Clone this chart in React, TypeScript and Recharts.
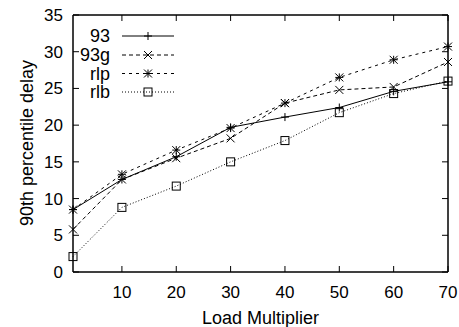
import React from 'react';
import { LineChart, Line, XAxis, YAxis, Label, Legend, ReferenceArea } from 'recharts';

const loadMultipliers = [1, 10, 20, 30, 40, 50, 60, 70];
const series93 = [8.5, 12.6, 15.7, 19.7, 21.1, 22.4, 24.6, 25.9];
const series93g = [5.8, 12.6, 15.5, 18.2, 23.0, 24.8, 25.2, 28.6];
const seriesRlp = [8.5, 13.3, 16.6, 19.6, 23.0, 26.5, 28.9, 30.7];
const seriesRlb = [2.1, 8.8, 11.7, 15.0, 17.9, 21.7, 24.3, 26.0];
const xTicks = [10, 20, 30, 40, 50, 60, 70];
const yTicks = [0, 5, 10, 15, 20, 25, 30, 35];
const seriesNames = ['93', '93g', 'rlp', 'rlb'];
const xDomain = [1, 70];
const yDomain = [0, 35];

const data = loadMultipliers.map((x, i) => ({
  x,
  s93: series93[i],
  s93g: series93g[i],
  rlp: seriesRlp[i],
  rlb: seriesRlb[i],
}));

type Shape = 'plus' | 'cross' | 'star' | 'box';
const INK = '#000';
const FONT = "'Liberation Sans', Arial, Helvetica, sans-serif";

function markerEls(shape: Shape, cx: number, cy: number) {
  const r = 4;
  const plus = [
    <line key="h" x1={cx - r} y1={cy} x2={cx + r} y2={cy} />,
    <line key="v" x1={cx} y1={cy - r} x2={cx} y2={cy + r} />,
  ];
  const cross = [
    <line key="d1" x1={cx - r} y1={cy - r} x2={cx + r} y2={cy + r} />,
    <line key="d2" x1={cx - r} y1={cy + r} x2={cx + r} y2={cy - r} />,
  ];
  if (shape === 'plus') return plus;
  if (shape === 'cross') return cross;
  if (shape === 'star') return [...plus, ...cross];
  return [<rect key="b" x={cx - r} y={cy - r} width={2 * r} height={2 * r} />];
}

const makeDot = (shape: Shape) => (props: any) => {
  const { cx, cy, index } = props;
  if (cx == null || cy == null) return <g key={`${shape}-${index}`} />;
  return (
    <g key={`${shape}-${index}`} stroke={INK} strokeWidth={1} fill="none">
      {markerEls(shape, cx, cy)}
    </g>
  );
};

const styles: { shape: Shape; dash?: string }[] = [
  { shape: 'plus' },
  { shape: 'cross', dash: '4 3' },
  { shape: 'star', dash: '3 4' },
  { shape: 'box', dash: '1 2' },
];

const rowY = [36, 55, 73.5, 92];

const LegendBox = () => (
  <svg width={200} height={110} style={{ display: 'block' }}>
    {seriesNames.map((name, i) => (
      <g key={name}>
        <text
          x={110}
          y={rowY[i]}
          dy="0.35em"
          textAnchor="end"
          fontSize={18}
          fontFamily={FONT}
          fill={INK}
        >
          {name}
        </text>
        <line
          x1={122}
          x2={174}
          y1={rowY[i]}
          y2={rowY[i]}
          stroke={INK}
          strokeWidth={1}
          strokeDasharray={styles[i].dash}
        />
        <g stroke={INK} strokeWidth={1} fill="none">
          {markerEls(styles[i].shape, 148, rowY[i])}
        </g>
      </g>
    ))}
  </svg>
);

const YLabel = () => (
  <text
    x={33}
    y={143}
    transform="rotate(-90, 33, 143)"
    textAnchor="middle"
    fontSize={18}
    fontFamily={FONT}
    fill={INK}
  >
    90th percentile delay
  </text>
);

const hiddenTick = { fill: 'none' };

export default function App() {
  const keys = ['s93', 's93g', 'rlp', 'rlb'];
  return (
    <div style={{ position: 'absolute', left: 0, top: 0, fontFamily: FONT, background: '#fff' }}>
      <LineChart
        width={459}
        height={327}
        data={data}
        margin={{ top: -15, right: -29, bottom: 0, left: 0 }}
      >
        <XAxis
          xAxisId="b"
          dataKey="x"
          type="number"
          domain={xDomain}
          ticks={xTicks}
          interval={0}
          orientation="bottom"
          height={55}
          tickSize={-6}
          tickMargin={20}
          stroke={INK}
          tick={{ fill: INK, fontSize: 17, fontFamily: FONT }}
        >
          <Label
            value="Load Multiplier"
            position="insideBottom"
            offset={3}
            fontSize={18}
            fill={INK}
            fontFamily={FONT}
          />
        </XAxis>
        <XAxis
          xAxisId="t"
          dataKey="x"
          type="number"
          domain={xDomain}
          ticks={xTicks}
          interval={0}
          orientation="top"
          height={30}
          tickSize={-6}
          stroke={INK}
          tick={hiddenTick}
        />
        <YAxis
          yAxisId="l"
          type="number"
          domain={yDomain}
          ticks={yTicks}
          interval={0}
          width={73}
          tickSize={-6}
          tickMargin={16}
          stroke={INK}
          tick={{ fill: INK, fontSize: 17, fontFamily: FONT }}
        >
          <Label content={<YLabel />} />
        </YAxis>
        <YAxis
          yAxisId="r"
          orientation="right"
          type="number"
          domain={yDomain}
          ticks={yTicks}
          interval={0}
          width={40}
          tickSize={-6}
          stroke={INK}
          tick={hiddenTick}
        />
        <ReferenceArea
          xAxisId="b"
          yAxisId="l"
          x1={xDomain[0]}
          x2={xDomain[1]}
          y1={yDomain[0]}
          y2={yDomain[1]}
          fill="none"
          stroke={INK}
          strokeWidth={1}
          ifOverflow="visible"
        />
        <Legend
          layout="horizontal"
          verticalAlign="middle"
          align="center"
          wrapperStyle={{ left: 0, top: 0, width: 200, height: 110 }}
          content={() => <LegendBox />}
        />
        <Line
          xAxisId="t"
          yAxisId="r"
          dataKey="s93"
          legendType="none"
          stroke="none"
          dot={false}
          activeDot={false}
          isAnimationActive={false}
        />
        {keys.map((k, i) => (
          <Line
            key={k}
            xAxisId="b"
            yAxisId="l"
            dataKey={k}
            name={seriesNames[i]}
            type="linear"
            stroke={INK}
            strokeWidth={1}
            strokeDasharray={styles[i].dash}
            dot={makeDot(styles[i].shape)}
            activeDot={false}
            isAnimationActive={false}
          />
        ))}
      </LineChart>
    </div>
  );
}
